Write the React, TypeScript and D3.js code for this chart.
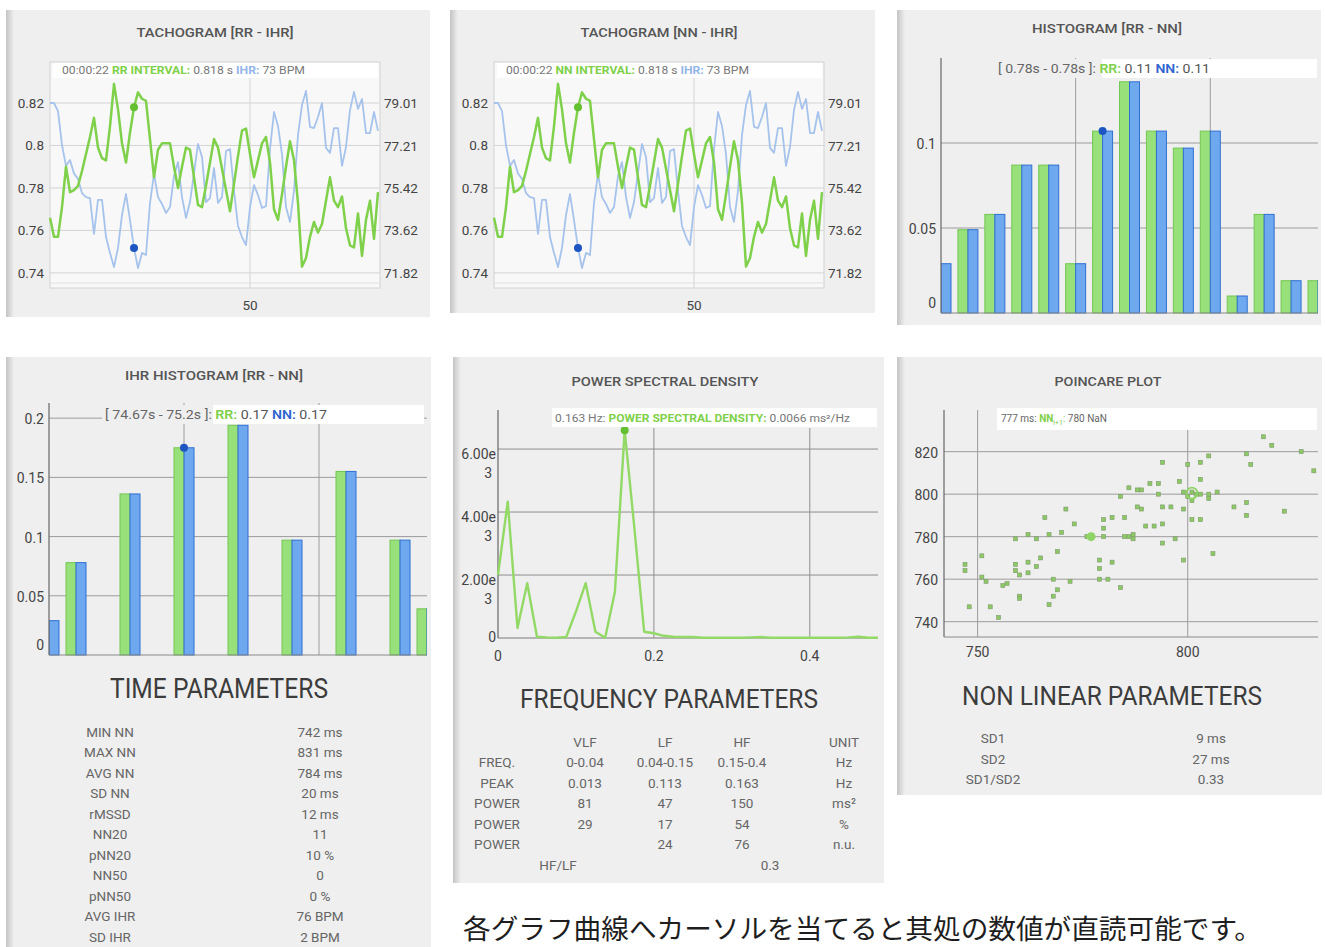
import React from 'react';
import * as d3 from 'd3';

const FONT = "Roboto, 'DejaVu Sans', sans-serif";
const BG = '#efefef';
const GREEN = '#7fd04a';
const GREEN_DOT = '#63c030';
const BLUE_LINE = '#a6c3ec';
const BLUE_DOT = '#1d56c2';
const BAR_G = '#98e07a';
const BAR_G_S = '#74c653';
const BAR_B = '#6ea9ef';
const BAR_B_S = '#2f6fd2';
const GRID = '#9c9c9c';
const AXIS = '#666';
const TXT = '#444';

// ---------- Tachogram data (beat index) ----------
const rrValues = [
  0.766, 0.757, 0.757, 0.771, 0.790, 0.778, 0.779, 0.781, 0.788, 0.796,
  0.804, 0.813, 0.799, 0.794, 0.793, 0.809, 0.829, 0.817, 0.801, 0.792,
  0.806, 0.818, 0.825, 0.822, 0.821, 0.803, 0.785, 0.798, 0.801, 0.801,
  0.801, 0.790, 0.780, 0.790, 0.799, 0.798, 0.785, 0.772, 0.771, 0.781,
  0.792, 0.803, 0.799, 0.789, 0.779, 0.769, 0.782, 0.795, 0.807, 0.808,
  0.796, 0.785, 0.793, 0.801, 0.804, 0.792, 0.770, 0.765, 0.777, 0.790,
  0.802, 0.793, 0.773, 0.743, 0.747, 0.757, 0.764, 0.759, 0.763, 0.774,
  0.785, 0.774, 0.771, 0.776, 0.761, 0.753, 0.752, 0.768, 0.748, 0.765,
  0.774, 0.756, 0.778,
];
const ihrValues = [
  79.01, 79.01, 78.67, 77.23, 76.35, 76.60, 76.03, 75.80, 75.20, 75.03,
  74.99, 73.47, 74.91, 74.91, 73.34, 72.67, 72.07, 72.88, 74.27, 75.16,
  74.06, 72.88, 72.03, 72.67, 72.58, 74.78, 76.01, 75.03, 74.74, 74.36,
  74.61, 75.92, 76.51, 75.03, 74.15, 74.82, 76.05, 77.28, 76.73, 74.82,
  74.99, 76.26, 74.78, 75.03, 76.98, 77.06, 75.29, 73.81, 73.34, 73.00,
  74.61, 75.54, 75.12, 74.57, 74.65, 77.06, 78.63, 78.04, 76.85, 74.61,
  73.98, 75.29, 77.66, 78.93, 79.52, 78.00, 77.95, 78.42, 79.01, 77.11,
  76.90, 77.95, 77.95, 76.35, 77.15, 78.71, 79.48, 78.76, 79.18, 77.74,
  77.74, 78.63, 77.83,
];
const tachoXTicks = [50];
const rrTicks = [0.74, 0.76, 0.78, 0.8, 0.82];
const rrTickLabels = ['0.74', '0.76', '0.78', '0.8', '0.82'];
const ihrTicks = [71.82, 73.62, 75.42, 77.21, 79.01];
const hoverIndex = 21;

// ---------- RR/NN histogram ----------
const histRR = [0.029, 0.049, 0.058, 0.087, 0.087, 0.029, 0.107, 0.136, 0.107, 0.097, 0.107, 0.010, 0.058, 0.019, 0.019];
const histNN = [0.029, 0.049, 0.058, 0.087, 0.087, 0.029, 0.107, 0.136, 0.107, 0.097, 0.107, 0.010, 0.058, 0.019, 0.019];
const histYTicks = [0, 0.05, 0.1];
const histYLabels = ['0', '0.05', '0.1'];
const histGridBins = [5, 10];
const histHover = 6;

// ---------- IHR histogram ----------
const ihrHistRR = [0.029, 0.078, 0, 0.136, 0, 0.175, 0, 0.194, 0, 0.097, 0, 0.155, 0, 0.097, 0.039];
const ihrHistNN = [0.029, 0.078, 0, 0.136, 0, 0.175, 0, 0.194, 0, 0.097, 0, 0.155, 0, 0.097, 0.039];
const ihrHistYTicks = [0, 0.05, 0.1, 0.15, 0.2];
const ihrHistYLabels = ['0', '0.05', '0.1', '0.15', '0.2'];
const ihrHistGridBins = [5, 10];
const ihrHistHover = 5;

// ---------- PSD ----------
const psdFreq = [
  0, 0.0125, 0.025, 0.0375, 0.05, 0.0625, 0.075, 0.0875, 0.1, 0.1125,
  0.125, 0.1375, 0.15, 0.1625, 0.175, 0.1875, 0.2, 0.2125, 0.225, 0.2375,
  0.25, 0.2625, 0.275, 0.2875, 0.3, 0.3125, 0.325, 0.3375, 0.35, 0.3625,
  0.375, 0.3875, 0.4, 0.4125, 0.425, 0.4375, 0.45, 0.4625, 0.475, 0.4875,
];
const psdPower = [
  0.0020, 0.00433, 0.00032, 0.00174, 0.00004, 0.00002, 0.00001, 0.00003, 0.00084, 0.00174,
  0.00020, 0.00001, 0.00147, 0.00660, 0.00348, 0.00020, 0.00015, 0.00007, 0.00004, 0.00003,
  0.00003, 0.00001, 0.00001, 0.00001, 0.00001, 0.00001, 0.00002, 0.00003, 0.00001, 0.00001,
  0.00001, 0.00001, 0.00001, 0.00001, 0.00001, 0.00001, 0.00002, 0.00004, 0.00001, 0.00001,
];
const psdYTicks = [0, 0.002, 0.004, 0.006];
const psdYLabels = [['0'], ['2.00e', '3'], ['4.00e', '3'], ['6.00e', '3']];
const psdXTicks = [0, 0.2, 0.4];
const psdXLabels = ['0', '0.2', '0.4'];
const psdHover = 13;

// ---------- Poincare ----------
const nnI = [
  818, 820, 827, 830, 814, 815, 805, 803, 800, 794, 803, 798, 791, 793, 786, 788, 789, 793, 784, 801,
  802, 803, 805, 807, 805, 801, 811, 814, 814, 823, 799, 796, 794, 789, 788, 801, 803, 785, 782, 780,
  794, 792, 790, 780, 777, 780, 786, 787, 797, 794, 773, 771, 766, 770, 767, 762, 764, 759, 769, 765,
  762, 764, 759, 759, 760, 751, 747, 747, 751, 752, 756, 757, 760, 760, 748, 753, 755, 767, 768, 769,
  768, 772, 779, 781, 784, 779, 779, 782, 799, 806, 776, 787, 785, 762, 799, 800,
];
const nnI1 = [
  827, 823, 820, 811, 819, 814, 818, 815, 814, 815, 807, 806, 805, 805, 803, 802, 802, 800, 799, 801,
  800, 800, 800, 801, 798, 797, 794, 796, 790, 792, 793, 794, 794, 793, 794, 788, 788, 789, 789, 788,
  786, 785, 785, 784, 780, 780, 780, 779, 779, 777, 786, 793, 789, 782, 781, 781, 779, 779, 773, 770,
  768, 766, 767, 764, 762, 771, 767, 764, 761, 759, 757, 758, 752, 751, 747, 747, 742, 748, 752, 755,
  760, 759, 760, 760, 756, 769, 765, 768, 769, 772, 780, 781, 780, 763, 801, 799,
];
const poinXTicks = [750, 800];
const poinYTicks = [740, 760, 780, 800, 820];
const poinHover = { x: 777, y: 780 };
const poinRing = { x: 801, y: 800.5 };

// ---------- Parameter tables ----------
const timeLabels = ['MIN NN', 'MAX NN', 'AVG NN', 'SD NN', 'rMSSD', 'NN20', 'pNN20', 'NN50', 'pNN50', 'AVG IHR', 'SD IHR'];
const timeValues = ['742 ms', '831 ms', '784 ms', '20 ms', '12 ms', '11', '10 %', '0', '0 %', '76 BPM', '2 BPM'];

const freqHeader = ['', 'VLF', 'LF', 'HF', 'UNIT'];
const freqRowLabels = ['FREQ.', 'PEAK', 'POWER', 'POWER', 'POWER'];
const freqVLF = ['0-0.04', '0.013', '81', '29', ''];
const freqLF = ['0.04-0.15', '0.113', '47', '17', '24'];
const freqHF = ['0.15-0.4', '0.163', '150', '54', '76'];
const freqUnit = ['Hz', 'Hz', 'ms²', '%', 'n.u.'];
const hfLfRatio = '0.3';

const nlLabels = ['SD1', 'SD2', 'SD1/SD2'];
const nlValues = ['9 ms', '27 ms', '0.33'];

function Panel({ x, y, w, h }: { x: number; y: number; w: number; h: number }) {
  return (
    <g>
      <rect x={x} y={y} width={w} height={h} fill={BG} />
      <rect x={x} y={y} width={8} height={h} fill="url(#edge)" />
    </g>
  );
}

function Title({ x, y, w, text }: { x: number; y: number; w: number; text: string }) {
  return (
    <text x={x} y={y} textAnchor="middle" fontSize={13} fontWeight={500} fill="#555"
      textLength={w} lengthAdjust="spacingAndGlyphs">{text}</text>
  );
}

function Tachogram({ dx, title, word }: { dx: number; title: string; word: string }) {
  const x = d3.scaleLinear().domain([0, 82.5]).range([50 + dx, 380 + dx]);
  const yRR = d3.scaleLinear().domain([0.7329, 0.8393]).range([288, 62]);
  const yIHR = d3.scaleLinear().domain([71.186, 80.744]).range([288, 62]);
  const lineRR = d3.line<number>().x((_, i) => x(i)).y((d) => yRR(d));
  const lineIHR = d3.line<number>().x((_, i) => x(i)).y((d) => yIHR(d));
  const [x0, x1] = x.range();
  return (
    <g>
      <Title x={215 + dx} y={37} w={157} text={title} />
      <rect x={x0} y={62} width={x1 - x0} height={226} fill="#f8f8f8" stroke="#d2d2d2" />
      {rrTicks.map((t) => (
        <line key={t} x1={x0} x2={x1} y1={yRR(t)} y2={yRR(t)} stroke="#d4d4d4" />
      ))}
      <line x1={x0} x2={x1} y1={283} y2={283} stroke="#e0e0e0" />
      {tachoXTicks.map((t) => (
        <line key={t} x1={x(t)} x2={x(t)} y1={62} y2={288} stroke="#d4d4d4" />
      ))}
      <path d={lineIHR(ihrValues) || ''} fill="none" stroke={BLUE_LINE} strokeWidth={1.8} strokeLinejoin="round" />
      <path d={lineRR(rrValues) || ''} fill="none" stroke={GREEN} strokeWidth={2.5} strokeLinejoin="round" />
      <circle cx={x(hoverIndex)} cy={yRR(rrValues[hoverIndex])} r={4} fill={GREEN_DOT} />
      <circle cx={x(hoverIndex)} cy={yIHR(ihrValues[hoverIndex])} r={4} fill={BLUE_DOT} />
      <rect x={x0 + 3} y={63} width={x1 - x0 - 5} height={15} fill="#fff" />
      <text x={x0 + 12} y={74} fontSize={10} textLength={243} lengthAdjust="spacingAndGlyphs">
        <tspan fill="#777">{'00:00:22 '}</tspan>
        <tspan fill={GREEN} fontWeight={700}>{word + ' INTERVAL:'}</tspan>
        <tspan fill="#777">{' 0.818 s '}</tspan>
        <tspan fill="#93b6e8" fontWeight={700}>{'IHR:'}</tspan>
        <tspan fill="#777">{' 73 BPM'}</tspan>
      </text>
      {rrTicks.map((t, i) => (
        <text key={t} x={x0 - 6} y={yRR(t) + 5} textAnchor="end" fontSize={13.5} fill={TXT}>{rrTickLabels[i]}</text>
      ))}
      {ihrTicks.map((t) => (
        <text key={t} x={x1 + 4} y={yIHR(t) + 5} fontSize={13.5} fill={TXT}>{t.toFixed(2)}</text>
      ))}
      {tachoXTicks.map((t) => (
        <text key={t} x={x(t)} y={310} textAnchor="middle" fontSize={13.5} fill={TXT}>{t}</text>
      ))}
    </g>
  );
}

function PairHistogram(props: {
  x0: number; x1: number; yBase: number; yTop: number; yMax: number;
  rr: number[]; nn: number[]; ticks: number[]; labels: string[]; gridBins: number[];
  hover: number; clipId: string; tipY: number; tipStart: number; tipWhite: number; tipEnd: number;
  tipText: string; tipVal: string; tipLen: number; labelX: number;
}) {
  const p = props;
  const x = d3.scaleLinear().domain([0, p.rr.length - 1]).range([p.x0, p.x1]);
  const y = d3.scaleLinear().domain([0, p.yMax]).range([p.yBase, p.yTop]);
  const bw = 10;
  return (
    <g>
      <defs>
        <clipPath id={p.clipId}>
          <rect x={p.x0} y={p.yTop - 5} width={p.x1 - p.x0} height={p.yBase - p.yTop + 10} />
        </clipPath>
      </defs>
      {p.ticks.filter((t) => t > 0).map((t) => (
        <line key={t} x1={p.x0} x2={p.x1} y1={y(t)} y2={y(t)} stroke={GRID} />
      ))}
      {p.gridBins.map((b) => (
        <line key={b} x1={x(b)} x2={x(b)} y1={p.yTop} y2={p.yBase} stroke={GRID} />
      ))}
      <g clipPath={`url(#${p.clipId})`}>
        {p.rr.map((v, i) => (
          <rect key={'g' + i} x={x(i) - bw} y={y(v)} width={bw} height={p.yBase - y(v)}
            fill={BAR_G} stroke={BAR_G_S} strokeWidth={1} />
        ))}
        {p.nn.map((v, i) => (
          <rect key={'b' + i} x={x(i)} y={y(v)} width={bw} height={p.yBase - y(v)}
            fill={BAR_B} stroke={BAR_B_S} strokeWidth={1} />
        ))}
      </g>
      <line x1={p.x0} x2={p.x0} y1={p.yTop} y2={p.yBase} stroke={AXIS} strokeWidth={1.2} />
      <line x1={p.x0} x2={p.x1} y1={p.yBase} y2={p.yBase} stroke="#8a8a8a" />
      <circle cx={x(p.hover)} cy={y(p.rr[p.hover])} r={4} fill={BLUE_DOT} />
      <rect x={p.tipStart} y={p.tipY - 14} width={p.tipWhite - p.tipStart} height={19} fill={BG} />
      <rect x={p.tipWhite} y={p.tipY - 14} width={p.tipEnd - p.tipWhite} height={19} fill="#fff" />
      <text x={p.tipStart + 3} y={p.tipY} fontSize={12} textLength={p.tipLen} lengthAdjust="spacingAndGlyphs">
        <tspan fill="#666">{p.tipText + ' '}</tspan>
        <tspan fill={GREEN} fontWeight={600}>{'RR:'}</tspan>
        <tspan fill="#555">{' ' + p.tipVal + ' '}</tspan>
        <tspan fill="#2f64d0" fontWeight={600}>{'NN:'}</tspan>
        <tspan fill="#555">{' ' + p.tipVal}</tspan>
      </text>
      {p.ticks.map((t, i) => (
        <text key={t} x={p.labelX} y={t === 0 ? y(t) - 5 : y(t) + 6} textAnchor="end" fontSize={14} fill={TXT}>{p.labels[i]}</text>
      ))}
    </g>
  );
}

function PSD() {
  const x = d3.scaleLinear().domain([0, 0.4875]).range([498, 878]);
  const y = d3.scaleLinear().domain([0, 0.00724]).range([638, 410]);
  const line = d3.line<number>().x((_, i) => x(psdFreq[i])).y((d) => y(d));
  return (
    <g>
      <Title x={665} y={386} w={187} text="POWER SPECTRAL DENSITY" />
      {psdYTicks.filter((t) => t > 0).map((t) => (
        <line key={t} x1={498} x2={878} y1={y(t)} y2={y(t)} stroke="#8e8e8e" />
      ))}
      {psdXTicks.filter((t) => t > 0).map((t) => (
        <line key={t} x1={x(t)} x2={x(t)} y1={428} y2={638} stroke="#8e8e8e" />
      ))}
      <line x1={498} x2={498} y1={410} y2={638} stroke={AXIS} strokeWidth={1.2} />
      <line x1={498} x2={878} y1={638} y2={638} stroke="#7a7a7a" />
      <path d={line(psdPower) || ''} fill="none" stroke="#92d966" strokeWidth={2.4} strokeLinejoin="round" />
      <circle cx={x(psdFreq[psdHover])} cy={y(psdPower[psdHover])} r={4} fill={GREEN_DOT} />
      <rect x={552} y={408} width={325} height={19} fill="#fff" />
      <text x={555} y={422} fontSize={10} textLength={295} lengthAdjust="spacingAndGlyphs">
        <tspan fill="#777">{'0.163 Hz: '}</tspan>
        <tspan fill={GREEN} fontWeight={700}>{'POWER SPECTRAL DENSITY:'}</tspan>
        <tspan fill="#777">{' 0.0066 ms²/Hz'}</tspan>
      </text>
      {psdYTicks.map((t, i) => (
        <text key={t} x={495} y={t === 0 ? y(t) + 4 : y(t) + 10} textAnchor="end" fontSize={14} fill={TXT}>
          {psdYLabels[i].map((s, j) => (
            <tspan key={j} x={j === 0 ? 496 : 492} dy={j === 0 ? 0 : 19}>{s}</tspan>
          ))}
        </text>
      ))}
      {psdXTicks.map((t, i) => (
        <text key={t} x={x(t)} y={661} textAnchor="middle" fontSize={14} fill={TXT}>{psdXLabels[i]}</text>
      ))}
    </g>
  );
}

function Poincare() {
  const x = d3.scaleLinear().domain([742, 831]).range([944, 1318]);
  const y = d3.scaleLinear().domain([732.8, 839.6]).range([637, 410]);
  return (
    <g>
      <Title x={1108} y={386} w={107} text="POINCARE PLOT" />
      {poinYTicks.map((t) => (
        <line key={t} x1={944} x2={1318} y1={y(t)} y2={y(t)} stroke={GRID} />
      ))}
      {poinXTicks.map((t) => (
        <line key={t} x1={x(t)} x2={x(t)} y1={410} y2={637} stroke={GRID} />
      ))}
      <line x1={944} x2={944} y1={410} y2={637} stroke={AXIS} strokeWidth={1.2} />
      <line x1={944} x2={1318} y1={637} y2={637} stroke="#8a8a8a" />
      {nnI.map((v, i) => (
        <rect key={i} x={x(v) - 2} y={y(nnI1[i]) - 2} width={4} height={4} fill="#8cc966" stroke="#7d9a68" strokeWidth={0.6} />
      ))}
      <circle cx={x(poinRing.x)} cy={y(poinRing.y)} r={5.5} fill="none" stroke="#8fd466" strokeWidth={1.8} />
      <circle cx={x(poinHover.x)} cy={y(poinHover.y)} r={4.5} fill="#8fd466" />
      <rect x={997} y={408} width={320} height={22} fill="#fff" />
      <text x={1001} y={422} fontSize={10} fill="#666">
        <tspan>{'777 ms: '}</tspan>
        <tspan fill={GREEN} fontWeight={700}>{'NN'}</tspan>
        <tspan fill={GREEN} fontSize={7} dy={3}>{'i+1'}</tspan>
        <tspan fill={GREEN} dy={-3}>{':'}</tspan>
        <tspan>{' 780 NaN'}</tspan>
      </text>
      {poinYTicks.map((t) => (
        <text key={t} x={938} y={y(t) + 6} textAnchor="end" fontSize={14} fill={TXT}>{t}</text>
      ))}
      {poinXTicks.map((t) => (
        <text key={t} x={x(t)} y={657} textAnchor="middle" fontSize={14} fill={TXT}>{t}</text>
      ))}
    </g>
  );
}

export default function App() {
  const rowY = (start: number, i: number) => start + i * 20.5;
  const freqCols = [497, 585, 665, 742, 844];
  return (
    <svg width={1325} height={947} viewBox="0 0 1325 947" fontFamily={FONT}
      style={{ position: 'absolute', left: 0, top: 0, display: 'block', background: '#fff' }}>
      <defs>
        <linearGradient id="edge" x1="0" x2="1" y1="0" y2="0">
          <stop offset="0" stopColor="#c4c4c4" />
          <stop offset="1" stopColor={BG} />
        </linearGradient>
      </defs>
      <rect x={0} y={0} width={1325} height={947} fill="#fff" />

      <Panel x={6} y={10} w={424} h={307} />
      <Panel x={450} y={10} w={425} h={303} />
      <Panel x={897} y={10} w={424} h={315} />
      <Panel x={6} y={357} w={425} h={600} />
      <Panel x={453} y={357} w={431} h={526} />
      <Panel x={897} y={357} w={425} h={438} />

      <Tachogram dx={0} title="TACHOGRAM [RR - IHR]" word="RR" />
      <Tachogram dx={444} title="TACHOGRAM [NN - IHR]" word="NN" />

      <Title x={1107} y={33} w={150} text="HISTOGRAM [RR - NN]" />
      <PairHistogram x0={941} x1={1318} yBase={313} yTop={58} yMax={0.15}
        rr={histRR} nn={histNN} ticks={histYTicks} labels={histYLabels} gridBins={histGridBins}
        hover={histHover} clipId="clipH1" tipY={73} tipStart={995} tipWhite={1102} tipEnd={1317}
        tipText="[ 0.78s - 0.78s ]:" tipVal="0.11" tipLen={212} labelX={936} />

      <Title x={214} y={380} w={178} text="IHR HISTOGRAM [RR - NN]" />
      <PairHistogram x0={49} x1={427} yBase={655} yTop={403} yMax={0.2128}
        rr={ihrHistRR} nn={ihrHistNN} ticks={ihrHistYTicks} labels={ihrHistYLabels} gridBins={ihrHistGridBins}
        hover={ihrHistHover} clipId="clipH2" tipY={419} tipStart={102} tipWhite={213} tipEnd={424}
        tipText="[ 74.67s - 75.2s ]:" tipVal="0.17" tipLen={222} labelX={44} />

      <PSD />
      <Poincare />

      {/* TIME PARAMETERS */}
      <text x={219} y={698} textAnchor="middle" fontSize={27} fontWeight={400} fill="#3c3c3c"
        textLength={218} lengthAdjust="spacingAndGlyphs">TIME PARAMETERS</text>
      {timeLabels.map((s, i) => (
        <text key={'tl' + i} x={110} y={rowY(736.5, i)} textAnchor="middle" fontSize={13.5} fill="#666">{s}</text>
      ))}
      {timeValues.map((s, i) => (
        <text key={'tv' + i} x={320} y={rowY(736.5, i)} textAnchor="middle" fontSize={13.5} fill="#666">{s}</text>
      ))}

      {/* FREQUENCY PARAMETERS */}
      <text x={669} y={708} textAnchor="middle" fontSize={26} fontWeight={400} fill="#3c3c3c"
        textLength={298} lengthAdjust="spacingAndGlyphs">FREQUENCY PARAMETERS</text>
      {freqHeader.map((s, j) => (
        <text key={'fh' + j} x={freqCols[j]} y={746.5} textAnchor="middle" fontSize={13.5} fill="#666">{s}</text>
      ))}
      {freqRowLabels.map((s, i) => (
        <g key={'fr' + i}>
          <text x={freqCols[0]} y={rowY(767, i)} textAnchor="middle" fontSize={13.5} fill="#666">{s}</text>
          <text x={freqCols[1]} y={rowY(767, i)} textAnchor="middle" fontSize={13.5} fill="#666">{freqVLF[i]}</text>
          <text x={freqCols[2]} y={rowY(767, i)} textAnchor="middle" fontSize={13.5} fill="#666">{freqLF[i]}</text>
          <text x={freqCols[3]} y={rowY(767, i)} textAnchor="middle" fontSize={13.5} fill="#666">{freqHF[i]}</text>
          <text x={freqCols[4]} y={rowY(767, i)} textAnchor="middle" fontSize={13.5} fill="#666">{freqUnit[i]}</text>
        </g>
      ))}
      <text x={558} y={rowY(767, 5)} textAnchor="middle" fontSize={13.5} fill="#666">HF/LF</text>
      <text x={770} y={rowY(767, 5)} textAnchor="middle" fontSize={13.5} fill="#666">{hfLfRatio}</text>

      {/* NON LINEAR PARAMETERS */}
      <text x={1112} y={705} textAnchor="middle" fontSize={26} fontWeight={400} fill="#3c3c3c"
        textLength={300} lengthAdjust="spacingAndGlyphs">NON LINEAR PARAMETERS</text>
      {nlLabels.map((s, i) => (
        <text key={'nl' + i} x={993} y={rowY(743, i)} textAnchor="middle" fontSize={13.5} fill="#666">{s}</text>
      ))}
      {nlValues.map((s, i) => (
        <text key={'nv' + i} x={1211} y={rowY(743, i)} textAnchor="middle" fontSize={13.5} fill="#666">{s}</text>
      ))}

      <text x={463} y={939} fontSize={27} fill="#1e1e1e" fontFamily="'Noto Sans CJK JP', sans-serif"
        textLength={799} lengthAdjust="spacingAndGlyphs">各グラフ曲線へカーソルを当てると其処の数値が直読可能です。</text>
    </svg>
  );
}
